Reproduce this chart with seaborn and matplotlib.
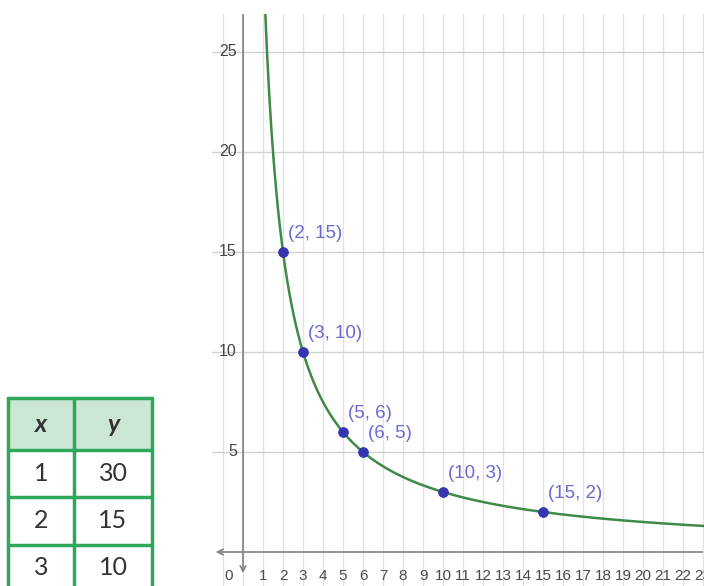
import numpy as np
import pandas as pd
import matplotlib.pyplot as plt
import seaborn as sns

# data
table_x = [1, 2, 3]
table_y = [30, 15, 10]
pt_x = [2, 3, 5, 6, 10, 15]
pt_y = [15, 10, 6, 5, 3, 2]
k = table_x[0] * table_y[0]   # y = k / x
x_ticks = list(range(1, 24))
y_ticks = [5, 10, 15, 20, 25]

sns.set_style('white')
plt.rcParams['font.family'] = ['Liberation Sans', 'DejaVu Sans']

W, H = 704, 586
fig = plt.figure(figsize=(W / 100, H / 100), dpi=100)

# graph area, pixel layout -> figure coords
ax = fig.add_axes([205 / W, 0, (W - 205) / W, (H - 14) / H])
ax.set_xlim(-1.9, 23.05)
ax.set_ylim(-1.7, 26.9)
for s in ax.spines.values():
    s.set_visible(False)
ax.set_xticks([])
ax.set_yticks([])

# grid
for gx in range(-1, 24):
    ax.axvline(gx, color='#e2e2e2', lw=1, zorder=0)
for gy in y_ticks:
    ax.axhline(gy, color='#d2d2d2', lw=1, xmin=0.015, zorder=0)

# axes with arrows
ax.annotate('', xy=(-1.5, 0), xytext=(23.1, 0),
            arrowprops=dict(arrowstyle='->', color='#808080', lw=1.2), zorder=1)
ax.annotate('', xy=(0, -1.2), xytext=(0, 27),
            arrowprops=dict(arrowstyle='->', color='#808080', lw=1.2), zorder=1)

for t in x_ticks:
    ax.text(t, -1.2, str(t), ha='center', va='center', fontsize=11, color='#4a4a4a')
ax.text(-0.7, -1.2, '0', ha='center', va='center', fontsize=11, color='#4a4a4a')
for t in y_ticks:
    ax.text(-0.3, t, str(t), ha='right', va='center', fontsize=11.5, color='#444444')

# curve
cx = np.linspace(k / 27.5, 23.1, 400)
curve = pd.DataFrame({'x': cx, 'y': k / cx})
sns.lineplot(data=curve, x='x', y='y', ax=ax, color='#3f8a47', lw=1.8, zorder=3)

pts = pd.DataFrame({'x': pt_x, 'y': pt_y})
sns.scatterplot(data=pts, x='x', y='y', ax=ax, color='#3535b0', s=50,
                edgecolor='#3535b0', zorder=4)
for px_, py_ in zip(pt_x, pt_y):
    ax.annotate(f'({px_}, {py_})', (px_, py_), xytext=(3.5, 13),
                textcoords='offset points', ha='left', va='center',
                fontsize=13.5, color='#6a6ad0', zorder=5)
ax.set_xlabel('')
ax.set_ylabel('')

# table
tax = fig.add_axes([0, 0, 1, 1])
tax.set_xlim(0, W)
tax.set_ylim(H, 0)
tax.axis('off')
col_edges = [8, 74, 152]
row_edges = [398, 450, 497, 545, 600]
green = '#2fa85c'
tax.add_patch(plt.Rectangle((col_edges[0], row_edges[0]), col_edges[2] - col_edges[0],
                            row_edges[1] - row_edges[0], facecolor='#cbe6d3', edgecolor='none'))
for cxp in col_edges:
    tax.plot([cxp, cxp], [row_edges[0], H], color=green, lw=2.5)
for ryp in row_edges[:-1]:
    tax.plot([col_edges[0], col_edges[2]], [ryp, ryp], color=green, lw=2.5)
hdr_y = (row_edges[0] + row_edges[1]) / 2
for i, name in enumerate(['x', 'y']):
    tax.text((col_edges[i] + col_edges[i + 1]) / 2, hdr_y, name, ha='center', va='center',
             fontsize=18, fontweight='bold', fontstyle='italic', color='#333333',
             family=['Lato', 'DejaVu Sans'])
for r, (a, b) in enumerate(zip(table_x, table_y)):
    yc = (row_edges[r + 1] + row_edges[r + 2]) / 2 if r < 2 else (row_edges[3] + 590) / 2
    tax.text((col_edges[0] + col_edges[1]) / 2, yc, str(a), ha='center', va='center',
             fontsize=18, color='#333333', family=['Lato', 'DejaVu Sans'])
    tax.text((col_edges[1] + col_edges[2]) / 2, yc, str(b), ha='center', va='center',
             fontsize=18, color='#333333', family=['Lato', 'DejaVu Sans'])

fig.savefig('out.png', dpi=100)
